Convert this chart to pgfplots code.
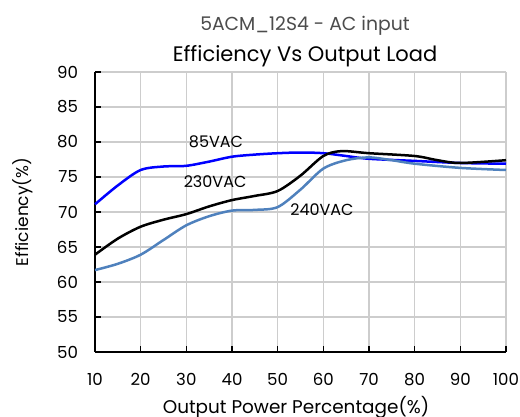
\documentclass[border=0pt]{standalone}
\usepackage{pgfplots}
\pgfplotsset{compat=1.18}
\usepackage{fontspec}
\setmainfont{Poppins}
\definecolor{lblue}{RGB}{79,129,189}
\definecolor{gridgray}{RGB}{205,205,205}
\begin{document}
\begin{tikzpicture}
\useasboundingbox (-47.5pt,-32.5pt) rectangle (212.5pt,176pt);
\begin{axis}[
  at={(0,0)}, anchor=south west,
  scale only axis, width=205.5pt, height=140pt,
  xmin=10, xmax=100, ymin=50, ymax=90,
  xtick={10,20,...,100}, ytick={50,55,...,90},
  axis lines=left, axis line style={black, line width=0.8pt, -},
  tick style={black, line width=0.6pt}, tick align=inside,
  major tick length=3pt,
  grid=major, major grid style={gridgray, line width=0.6pt},
  /pgf/number format/assume math mode=true,
  tick label style={font=\fontsize{8.3}{9}\selectfont},
  xticklabel style={yshift=-7pt},
  yticklabel style={xshift=-5pt},
  clip=false,
]
\addplot[blue, line width=1.25pt, smooth] coordinates {
(10,71.1) (15,73.8) (20,76.0) (25,76.5) (30,76.6) (35,77.2) (40,77.9) (45,78.2) (50,78.4) (55,78.5) (60,78.4) (65,78.0) (70,77.6) (80,77.3) (90,77.0) (100,76.9)};
\addplot[black, line width=1.25pt, smooth] coordinates {
(10,63.9) (15,66.2) (20,67.9) (25,68.9) (30,69.7) (35,70.8) (40,71.7) (45,72.3) (50,73.0) (55,75.2) (60,78.0) (64,78.7) (70,78.4) (80,78.0) (85,77.4) (90,77.0) (100,77.4)};
\addplot[lblue, line width=1.25pt, smooth] coordinates {
(10,61.7) (15,62.6) (20,63.9) (25,66.0) (30,68.1) (35,69.4) (40,70.2) (45,70.3) (50,70.7) (55,73.2) (60,76.2) (65,77.4) (70,77.8) (75,77.4) (80,76.9) (90,76.3) (100,76.0)};
\node[font=\fontsize{8}{9}\selectfont] at (axis cs:36.5,80.1) {85VAC};
\node[font=\fontsize{8}{9}\selectfont] at (axis cs:36.3,74.4) {230VAC};
\node[font=\fontsize{8}{9}\selectfont] at (axis cs:59.7,70.4) {240VAC};
\end{axis}
\node[font=\fontsize{9.2}{11}\selectfont] at (100.5pt,-27.5pt) {Output Power Percentage(\%)};
\node[font=\fontsize{8.5}{10}\selectfont, rotate=90] at (-36pt,70pt) {Efficiency(\%)};
\node[font=\fontsize{9.4}{12}\selectfont, text=black!70] at (105pt,163pt) {5ACM\_12S4 - AC input};
\node[font=\fontsize{10.5}{12}\selectfont] at (105pt,148pt) {Efficiency Vs Output Load};
\end{tikzpicture}
\end{document}
